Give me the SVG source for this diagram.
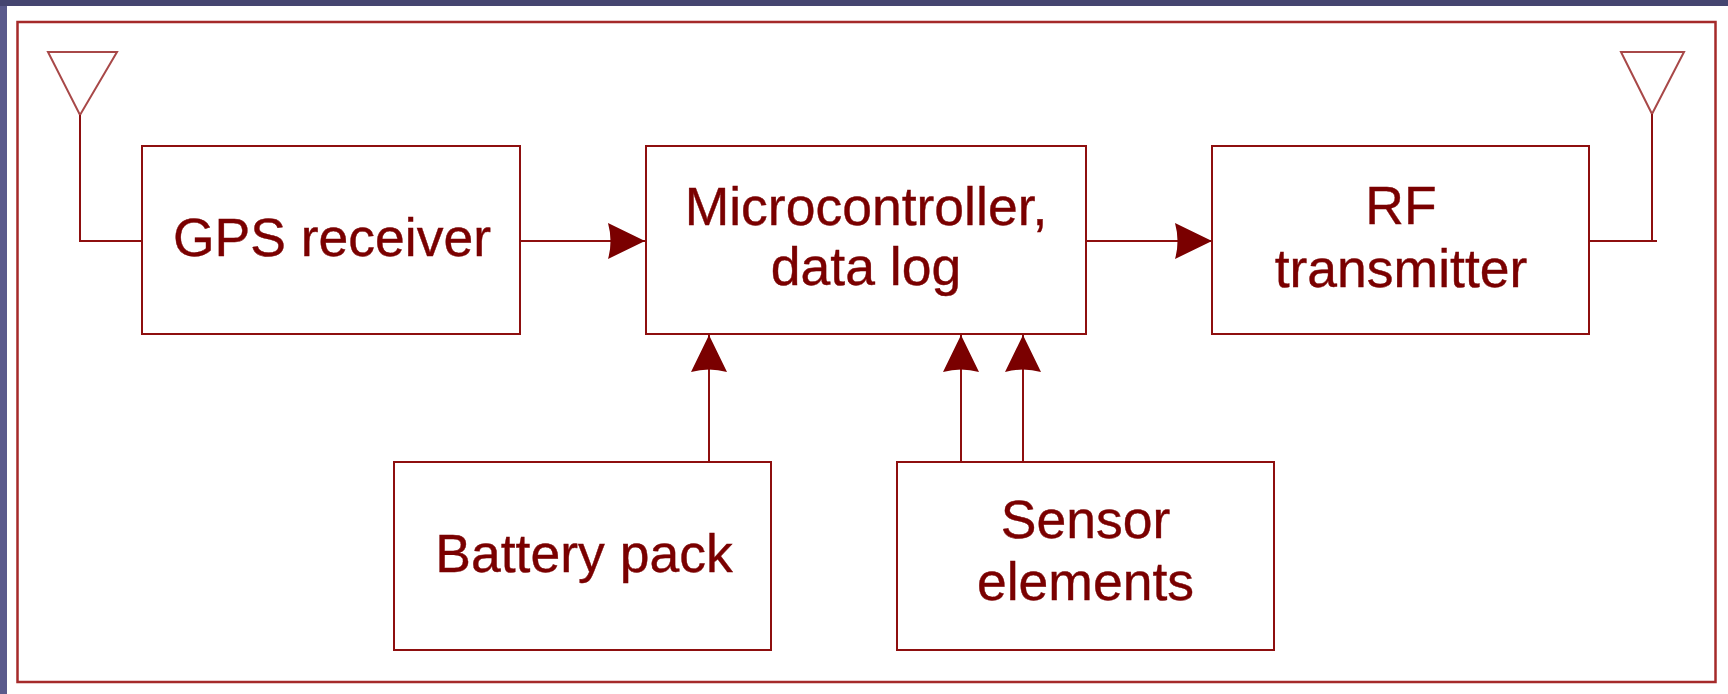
<svg xmlns="http://www.w3.org/2000/svg" width="1728" height="694" viewBox="0 0 1728 694">
<style>
.box{fill:#fff;stroke:#8e0f0f;stroke-width:2}
.ln{fill:none;stroke:#8e0f0f;stroke-width:2}
.ant{fill:none;stroke:#a84848;stroke-width:2}
.lbl{font-family:"Liberation Sans",Arial,sans-serif;font-size:53.5px;fill:#7a0000;stroke:#7a0000;stroke-width:0.4;text-anchor:middle}
</style>
<defs>
<marker id="arr" markerUnits="userSpaceOnUse" viewBox="-38 -20 40 40" refX="0" refY="0" markerWidth="40" markerHeight="40" orient="auto">
<path d="M0,0 L-37,-18 Q-32,0 -37,18 Z" fill="#7a0000"/>
</marker>
</defs>
<rect x="0" y="0" width="1728" height="694" fill="#5a5a8c"/>
<rect x="0" y="0" width="1728" height="6" fill="#454570"/>
<rect x="7" y="6" width="1721" height="688" fill="#fff"/>
<rect x="17.5" y="22" width="1698" height="660" fill="none" stroke="#a52a2a" stroke-width="2.5"/>
<g id="antenna-left">
<polygon class="ant" points="48,52 117,52 80,115"/>
</g>
<g id="antenna-right">
<polygon class="ant" points="1621,52 1684,52 1652,114"/>
</g>
<g id="connectors">
<path class="ln" d="M80,115 V241 H142"/>
<path class="ln" d="M1652,114 V241 M1589,241 H1657"/>
<path class="ln" d="M520,241 H645" marker-end="url(#arr)"/>
<path class="ln" d="M1086,241 H1212" marker-end="url(#arr)"/>
<path class="ln" d="M709,462 V335" marker-end="url(#arr)"/>
<path class="ln" d="M961,462 V335" marker-end="url(#arr)"/>
<path class="ln" d="M1023,462 V335" marker-end="url(#arr)"/>
</g>
<g id="gps">
<rect class="box" x="142" y="146" width="378" height="188"/>
<text class="lbl" x="332" y="256">GPS receiver</text>
</g>
<g id="micro">
<rect class="box" x="646" y="146" width="440" height="188"/>
<text class="lbl" x="866" y="225">Microcontroller,</text>
<text class="lbl" x="866" y="285">data log</text>
</g>
<g id="rf">
<rect class="box" x="1212" y="146" width="377" height="188"/>
<text class="lbl" x="1401" y="224">RF</text>
<text class="lbl" x="1401" y="287">transmitter</text>
</g>
<g id="battery">
<rect class="box" x="394" y="462" width="377" height="188"/>
<text class="lbl" x="584" y="572">Battery pack</text>
</g>
<g id="sensor">
<rect class="box" x="897" y="462" width="377" height="188"/>
<text class="lbl" x="1085.5" y="538">Sensor</text>
<text class="lbl" x="1085.5" y="600">elements</text>
</g>
</svg>
